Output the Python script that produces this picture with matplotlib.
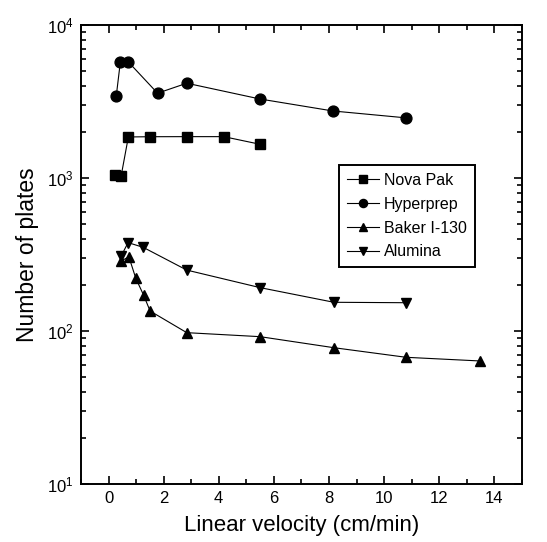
import matplotlib
matplotlib.use("Agg")
from matplotlib import pyplot as plt
from matplotlib.ticker import MultipleLocator, LogLocator, NullFormatter

plt.rcParams['font.family'] = ['Liberation Sans', 'DejaVu Sans']

# Velocidades lineales (cm/min) y número de platos de cada columna
x_novapak = [0.25, 0.46, 0.72, 1.51, 2.84, 4.18, 5.50]
y_novapak = [1046, 1035, 1853, 1860, 1862, 1862, 1660]

x_hyperprep = [0.28, 0.43, 0.72, 1.78, 2.84, 5.50, 8.14, 10.80]
y_hyperprep = [3420, 5730, 5730, 3580, 4160, 3280, 2740, 2470]

x_baker = [0.46, 0.74, 0.99, 1.27, 1.51, 2.84, 5.50, 8.17, 10.80, 13.47]
y_baker = [287, 305, 221, 172, 135, 97.5, 91.8, 77.8, 67.3, 63.7]

x_alumina = [0.46, 0.71, 1.26, 2.84, 5.50, 8.18, 10.81]
y_alumina = [309, 378, 352, 250, 192, 154, 153]

series = [
    (x_novapak, y_novapak, 's', 'Nova Pak'),
    (x_hyperprep, y_hyperprep, 'o', 'Hyperprep'),
    (x_baker, y_baker, '^', 'Baker I-130'),
    (x_alumina, y_alumina, 'v', 'Alumina'),
]

fig = plt.figure(figsize=(5.47, 5.42), dpi=100)
ax = fig.add_axes([0.148, 0.107, 0.806, 0.847])

for xs, ys, m, etiqueta in series:
    ax.plot(xs, ys, color='black', linewidth=0.8, marker=m,
            markersize=7.8 if m != 's' else 6.8, label=etiqueta)

ax.set_yscale('log')
ax.set_xlim(-1, 15)
ax.set_ylim(10, 1e4)
ax.xaxis.set_major_locator(MultipleLocator(2))
ax.xaxis.set_minor_locator(MultipleLocator(1))
ax.yaxis.set_major_locator(LogLocator(base=10))
ax.yaxis.set_minor_locator(LogLocator(base=10, subs=range(2, 10)))
ax.yaxis.set_minor_formatter(NullFormatter())

ax.tick_params(which='both', direction='in', top=True, right=True,
               width=1.2, labelsize=12, pad=5)
ax.tick_params(which='major', length=6)
ax.tick_params(which='minor', length=3.5)
for s in ax.spines.values():
    s.set_linewidth(1.4)

ax.set_xlabel('Linear velocity (cm/min)', fontsize=16, va='top')
ax.xaxis.set_label_coords(0.5, -0.068)
ax.set_ylabel('Number of plates', fontsize=16.5, labelpad=6)

leg = ax.legend(loc='upper left', bbox_to_anchor=(0.586, 0.695),
                borderaxespad=0, fontsize=11.5, markerscale=0.75,
                handlelength=2.0, handletextpad=0.3, labelspacing=0.55,
                borderpad=0.5, fancybox=False, framealpha=1,
                edgecolor='black')
leg.get_frame().set_linewidth(1.4)

plt.savefig('out.png', dpi=100)
